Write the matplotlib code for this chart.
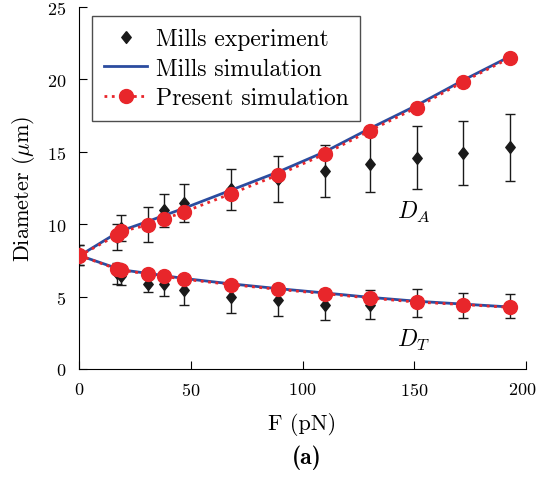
import numpy as np
import matplotlib.pyplot as plt
import matplotlib.transforms as mtransforms

plt.rcParams['font.family'] = 'cmr10'
plt.rcParams['mathtext.fontset'] = 'cm'
plt.rcParams['axes.formatter.use_mathtext'] = True

# force values (pN)
force = [0, 17, 19, 31, 38, 47, 68, 89, 110, 130, 151, 172, 193]

# Mills experiment
exp_da = [7.85, 9.1, 9.75, 10.0, 10.95, 11.45, 12.4, 13.1, 13.65, 14.15, 14.6, 14.9, 15.3]
exp_da_err = [0.7, 0.9, 0.9, 1.2, 1.15, 1.3, 1.4, 1.6, 1.8, 1.95, 2.2, 2.2, 2.3]
exp_dt = [7.85, 6.6, 6.4, 5.85, 5.85, 5.45, 5.0, 4.75, 4.45, 4.45, 4.55, 4.4, 4.35]
exp_dt_err = [0.7, 0.7, 0.6, 0.55, 0.8, 1.0, 1.1, 1.1, 1.1, 1.0, 0.95, 0.85, 0.8]

# Mills simulation
mills_da = [7.8, 9.4, 9.55, 10.2, 10.6, 11.1, 12.35, 13.6, 15.0, 16.6, 18.2, 19.95, 21.6]
mills_dt = [7.85, 6.95, 6.85, 6.6, 6.45, 6.25, 5.88, 5.55, 5.25, 4.95, 4.68, 4.48, 4.28]

# present simulation
pres_da = [7.8, 9.25, 9.5, 9.95, 10.35, 10.85, 12.1, 13.4, 14.85, 16.45, 18.05, 19.85, 21.5]
pres_dt = [7.85, 6.9, 6.83, 6.55, 6.4, 6.2, 5.83, 5.5, 5.2, 4.9, 4.62, 4.45, 4.25]

red = '#e8262b'
blue = '#2b4c9f'
dark = '#1a1a1a'
diamond = [(0, 1), (0.8, 0), (0, -1), (-0.8, 0), (0, 1)]

fig = plt.figure(figsize=(5.38, 4.81), dpi=100)
ax = fig.add_axes([0.1468, 0.2308, 0.831, 0.7526])

for d, e in [(exp_da, exp_da_err), (exp_dt, exp_dt_err)]:
    ax.errorbar(force, d, yerr=e, fmt='none', ecolor=dark, elinewidth=1.0,
                capsize=3.8, capthick=1.0, zorder=2)
    ax.plot(force, d, linestyle='none', marker=diamond, color=dark, ms=8.5,
            zorder=2)
ax.plot(force, mills_da, '-', color=blue, lw=2.0, zorder=3)
ax.plot(force, mills_dt, '-', color=blue, lw=2.0, zorder=3)
ax.plot(force, pres_da, ':', color=red, lw=2.0, marker='o', ms=10, zorder=4)
ax.plot(force, pres_dt, ':', color=red, lw=2.0, marker='o', ms=10, zorder=4)

# legend proxies
h1, = ax.plot([], [], linestyle='none', marker=diamond, color=dark, ms=8.5)
h2, = ax.plot([], [], '-', color=blue, lw=2.0)
h3, = ax.plot([], [], ':', color=red, lw=2.0, marker='o', ms=10)
leg = ax.legend([h1, h2, h3], ['Mills experiment', 'Mills simulation', 'Present simulation'],
                loc='upper left', bbox_to_anchor=(0.029, 0.975), fontsize=17,
                frameon=True, fancybox=False, edgecolor='#222222',
                handlelength=1.85, handletextpad=0.35, labelspacing=0.32,
                borderpad=0.5, borderaxespad=0)
leg.get_frame().set_linewidth(1.0)

ax.text(142.3, 10.4, '$D_A$', fontsize=17, ha='left', va='baseline')
ax.text(142.3, 1.6, '$D_T$', fontsize=17, ha='left', va='baseline')

ax.set_xlim(0, 200)
ax.set_ylim(0, 25)
ax.set_xticks([0, 50, 100, 150, 200])
ax.set_yticks([0, 5, 10, 15, 20, 25])
ax.tick_params(direction='in', labelsize=13, length=6, width=0.8)
ax.tick_params(axis='x', pad=8.5)
ax.tick_params(axis='y', pad=9)
ax.spines['top'].set_visible(False)
ax.spines['right'].set_visible(False)
ax.set_xlabel('F (pN)', fontsize=16, labelpad=10)
ax.set_ylabel(r'Diameter ($\mu$m)', fontsize=16, labelpad=7)

# keep the last x tick label inside the figure
last = ax.get_xticklabels()[-1]
last.set_transform(last.get_transform() +
                   mtransforms.ScaledTranslation(-3 / 72, 0, fig.dpi_scale_trans))

fig.text(0.571, 0.048, '(a)', fontsize=17, fontfamily='cmb10', ha='center', va='center')

fig.savefig('out.png', dpi=100)
